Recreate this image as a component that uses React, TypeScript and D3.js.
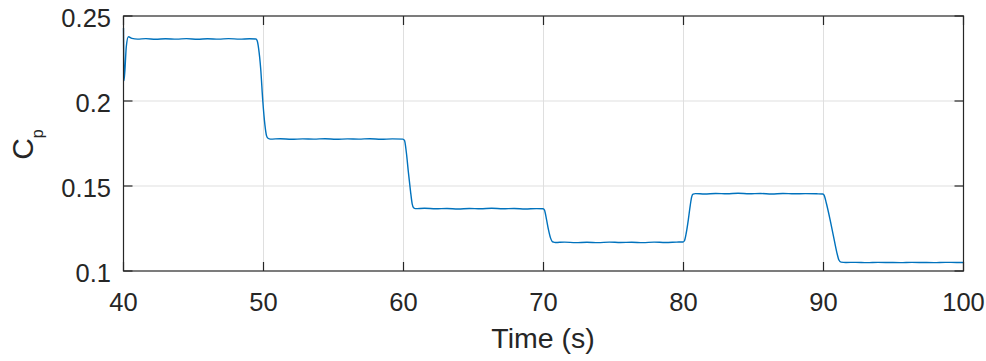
import React from "react";
import * as d3 from "d3";

const times: number[] = [
  40, 40.04, 40.2, 40.35, 40.6, 41.0, 41.6, 42.3, 43.0, 43.8, 44.5, 45.3, 46.0, 46.8, 47.5, 48.3, 49.0, 49.45,
  49.55, 49.65, 49.8, 49.95, 50.1, 50.22, 50.32, 50.5, 51.2, 52.0, 52.8, 53.6, 54.4, 55.2, 56.0, 56.8, 57.6, 58.4, 59.2, 59.95,
  60.07, 60.2, 60.35, 60.5, 60.62, 60.72, 60.85, 61.5, 62.3, 63.1, 63.9, 64.7, 65.5, 66.3, 67.1, 67.9, 68.7, 69.5, 69.97,
  70.07, 70.2, 70.35, 70.5, 70.62, 70.72, 70.85, 71.5, 72.3, 73.1, 73.9, 74.7, 75.5, 76.3, 77.1, 77.9, 78.7, 79.5, 79.97,
  80.07, 80.2, 80.35, 80.48, 80.58, 80.68, 80.85, 81.5, 82.3, 83.1, 83.9, 84.7, 85.5, 86.3, 87.1, 87.9, 88.7, 89.5, 89.95,
  90.05, 90.2, 90.45, 90.7, 90.95, 91.1, 91.25, 91.6, 92.3, 93.1, 93.9, 94.7, 95.5, 96.3, 97.1, 97.9, 98.7, 99.5, 100,
];
const cp: number[] = [
  0.243, 0.212, 0.232, 0.2378, 0.2368, 0.2364, 0.2367, 0.2363, 0.2366, 0.2364, 0.2367, 0.2363, 0.2366, 0.2364, 0.2367, 0.2364, 0.2366, 0.2365,
  0.2355, 0.231, 0.219, 0.2, 0.186, 0.1795, 0.1781, 0.1776, 0.1778, 0.1775, 0.1777, 0.1776, 0.1778, 0.1775, 0.1777, 0.1776, 0.1778, 0.1775, 0.1777, 0.1776,
  0.1768, 0.170, 0.158, 0.147, 0.1395, 0.1372, 0.1367, 0.1369, 0.1366, 0.1368, 0.1365, 0.1368, 0.1366, 0.1369, 0.1366, 0.1368, 0.1365, 0.1367, 0.1366,
  0.1358, 0.131, 0.1245, 0.1195, 0.1174, 0.117, 0.1168, 0.117, 0.1167, 0.1169, 0.1167, 0.117, 0.1168, 0.1169, 0.1167, 0.117, 0.1168, 0.117, 0.1171,
  0.1178, 0.1225, 0.1305, 0.1385, 0.1435, 0.1452, 0.1455, 0.1453, 0.1456, 0.1454, 0.1457, 0.1454, 0.1456, 0.1453, 0.1456, 0.1454, 0.1455, 0.1454, 0.1453,
  0.1445, 0.140, 0.131, 0.121, 0.111, 0.1065, 0.1052, 0.105, 0.1051, 0.1049, 0.1051, 0.105, 0.1049, 0.1051, 0.105, 0.1049, 0.1051, 0.105, 0.105,
];
const xTicks: number[] = [40, 50, 60, 70, 80, 90, 100];
const yTicks: number[] = [0.1, 0.15, 0.2, 0.25];
const yTickLabels: string[] = ["0.1", "0.15", "0.2", "0.25"];

const W = 986;
const H = 361;
const L = 123.5, R = 963.5, T = 16, B = 271;
const AX = "#262626";
const FONT = "'Liberation Sans', Arial, Helvetica, sans-serif";

export default function App() {
  const x = d3.scaleLinear().domain([40, 100]).range([L, R]);
  const y = d3.scaleLinear().domain([0.1, 0.25]).range([B, T]);
  const data = times.map((t, i) => [t, cp[i]] as [number, number]);
  const line = d3
    .line<[number, number]>()
    .x((d) => x(d[0]))
    .y((d) => y(d[1]))
    .curve(d3.curveMonotoneX);
  const tl = 9;
  return (
    <svg width={W} height={H} style={{ position: "absolute", left: 0, top: 0, background: "#fff" }}>
      <rect x={0} y={0} width={W} height={H} fill="#fff" />
      {xTicks.slice(1, -1).map((t) => (
        <line key={"gx" + t} x1={x(t)} x2={x(t)} y1={T} y2={B} stroke="#dfdfdf" strokeWidth={1} />
      ))}
      {yTicks.slice(1, -1).map((t) => (
        <line key={"gy" + t} x1={L} x2={R} y1={y(t)} y2={y(t)} stroke="#dfdfdf" strokeWidth={1} />
      ))}
      <path d={line(data) || ""} fill="none" stroke="#0072BD" strokeWidth={1.4} strokeLinejoin="round" />
      <rect x={L} y={T} width={R - L} height={B - T} fill="none" stroke={AX} strokeWidth={1.2} />
      {xTicks.map((t) => (
        <g key={"tx" + t}>
          <line x1={x(t)} x2={x(t)} y1={B} y2={B - tl} stroke={AX} strokeWidth={1.2} />
          <line x1={x(t)} x2={x(t)} y1={T} y2={T + tl} stroke={AX} strokeWidth={1.2} />
          <text x={x(t)} y={311} textAnchor="middle" fontFamily={FONT} fontSize={25.5} fill={AX}>
            {t}
          </text>
        </g>
      ))}
      {yTicks.map((t, i) => (
        <g key={"ty" + t}>
          <line x1={L} x2={L + tl} y1={y(t)} y2={y(t)} stroke={AX} strokeWidth={1.2} />
          <line x1={R} x2={R - tl} y1={y(t)} y2={y(t)} stroke={AX} strokeWidth={1.2} />
          <text x={111} y={y(t) + 10.5} textAnchor="end" fontFamily={FONT} fontSize={25.5} fill={AX}>
            {yTickLabels[i]}
          </text>
        </g>
      ))}
      <text x={543} y={348} textAnchor="middle" fontFamily={FONT} fontSize={28.5} fill={AX}>
        Time (s)
      </text>
      <text transform="translate(33,144.5) rotate(-90)" textAnchor="middle" fontFamily={FONT} fontSize={30} fill={AX}>
        C<tspan fontSize={16} dy={10}>p</tspan>
      </text>
    </svg>
  );
}
